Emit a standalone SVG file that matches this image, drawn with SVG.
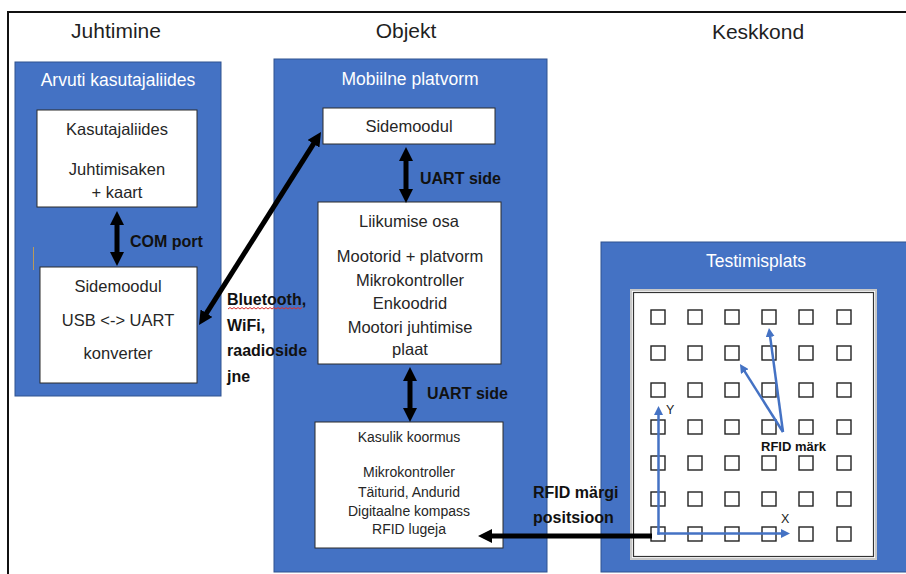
<svg xmlns="http://www.w3.org/2000/svg" width="906" height="574" viewBox="0 0 906 574">
  <defs>
    <style>
      .frame { fill: none; stroke: #111; stroke-width: 2; }
      .panel { fill: #4472C4; stroke: #2F528F; stroke-width: 1; }
      .box { fill: #fff; stroke: #2b2b2b; stroke-width: 1; }
      .title { font-family: "Liberation Sans", Arial, sans-serif; font-size: 21px; fill: #1f1f1f; text-anchor: middle; }
      .ptitle { font-family: "Liberation Sans", Arial, sans-serif; font-size: 17.5px; fill: #fff; text-anchor: middle; }
      .txt { font-family: "Liberation Sans", Arial, sans-serif; font-size: 16.5px; fill: #262626; text-anchor: middle; }
      .small { font-family: "Liberation Sans", Arial, sans-serif; font-size: 14px; fill: #262626; text-anchor: middle; }
      .lbl { font-family: "Liberation Sans", Arial, sans-serif; font-size: 16px; font-weight: bold; fill: #111; }
      .axis { font-family: "Liberation Sans", Arial, sans-serif; font-size: 12.5px; fill: #222; }
      .conn { stroke: #000; stroke-width: 5; fill: none; }
      .bconn { stroke: #4472C4; stroke-width: 2.5; fill: none; }
      .cell { fill: #fff; stroke: #222; stroke-width: 1.4; }
    </style>
    <marker id="head" viewBox="0 0 14 14" markerWidth="14" markerHeight="14" refX="3" refY="7" orient="auto-start-reverse" markerUnits="userSpaceOnUse">
      <path d="M0,0 L14,7 L0,14 z" fill="#000"/>
    </marker>
    <marker id="bhead" viewBox="0 0 9 9" markerWidth="9" markerHeight="9" refX="2" refY="4.5" orient="auto" markerUnits="userSpaceOnUse">
      <path d="M0,0 L9,4.5 L0,9 z" fill="#4472C4"/>
    </marker>
  </defs>

  <rect width="906" height="574" fill="#fff"/>
  <!-- outer frame, runs off the right and bottom edges -->
  <rect class="frame" x="8" y="12" width="920" height="600"/>

  <!-- column headings -->
  <text class="title" x="116" y="38">Juhtimine</text>
  <text class="title" x="406" y="38">Objekt</text>
  <text class="title" x="758" y="39">Keskkond</text>

  <!-- computer user interface -->
  <g id="arvuti">
    <rect class="panel" x="15" y="62" width="206" height="334"/>
    <text class="ptitle" x="118" y="86">Arvuti kasutajaliides</text>
    <line x1="33.5" y1="247" x2="33.5" y2="270" stroke="#b89a5a" stroke-width="1"/>
  </g>
  <g id="kasutajaliides">
    <rect class="box" x="37" y="110" width="160" height="97"/>
    <text class="txt" x="117" y="135">Kasutajaliides</text>
    <text class="txt" x="117" y="175">Juhtimisaken</text>
    <text class="txt" x="117" y="198">+ kaart</text>
  </g>
  <g id="sidemoodul-pc">
    <rect class="box" x="40" y="267" width="157" height="116"/>
    <text class="txt" x="118" y="292">Sidemoodul</text>
    <text class="txt" x="118" y="326">USB &lt;-&gt; UART</text>
    <text class="txt" x="118" y="359">konverter</text>
  </g>

  <!-- mobile platform -->
  <g id="platvorm">
    <rect class="panel" x="274" y="59" width="273" height="513"/>
    <text class="ptitle" x="410" y="85">Mobiilne platvorm</text>
  </g>
  <g id="sidemoodul">
    <rect class="box" x="323" y="108" width="172" height="36"/>
    <text class="txt" x="409" y="132">Sidemoodul</text>
  </g>
  <g id="liikumine">
    <rect class="box" x="318" y="202" width="183" height="162"/>
    <text class="txt" x="409" y="227">Liikumise osa</text>
    <text class="txt" x="410" y="262">Mootorid + platvorm</text>
    <text class="txt" x="410" y="286">Mikrokontroller</text>
    <text class="txt" x="410" y="309">Enkoodrid</text>
    <text class="txt" x="410" y="333">Mootori juhtimise</text>
    <text class="txt" x="410" y="355">plaat</text>
  </g>
  <g id="koormus">
    <rect class="box" x="315" y="422" width="188" height="126"/>
    <text class="small" x="409" y="442">Kasulik koormus</text>
    <text class="small" x="409" y="477">Mikrokontroller</text>
    <text class="small" x="409" y="497">Täiturid, Andurid</text>
    <text class="small" x="409" y="516">Digitaalne kompass</text>
    <text class="small" x="409" y="534">RFID lugeja</text>
  </g>

  <!-- test field -->
  <g id="testimisplats">
    <rect class="panel" x="601" y="242" width="310" height="330"/>
    <text class="ptitle" x="756" y="267">Testimisplats</text>
    <rect x="631" y="290" width="245" height="269" fill="#fff" stroke="#c8c8c8" stroke-width="2"/>
    <rect x="633.5" y="292.5" width="240" height="264" fill="none" stroke="#333" stroke-width="1.2"/>
    <g id="margid">
      <rect class="cell" x="651" y="310" width="14" height="14"/>
      <rect class="cell" x="688" y="310" width="14" height="14"/>
      <rect class="cell" x="725" y="310" width="14" height="14"/>
      <rect class="cell" x="762" y="310" width="14" height="14"/>
      <rect class="cell" x="799" y="310" width="14" height="14"/>
      <rect class="cell" x="837" y="310" width="14" height="14"/>

      <rect class="cell" x="651" y="346" width="14" height="14"/>
      <rect class="cell" x="688" y="346" width="14" height="14"/>
      <rect class="cell" x="725" y="346" width="14" height="14"/>
      <rect class="cell" x="762" y="346" width="14" height="14"/>
      <rect class="cell" x="799" y="346" width="14" height="14"/>
      <rect class="cell" x="837" y="346" width="14" height="14"/>

      <rect class="cell" x="651" y="383" width="14" height="14"/>
      <rect class="cell" x="688" y="383" width="14" height="14"/>
      <rect class="cell" x="725" y="383" width="14" height="14"/>
      <rect class="cell" x="762" y="383" width="14" height="14"/>
      <rect class="cell" x="799" y="383" width="14" height="14"/>
      <rect class="cell" x="837" y="383" width="14" height="14"/>

      <rect class="cell" x="651" y="420" width="14" height="14"/>
      <rect class="cell" x="688" y="420" width="14" height="14"/>
      <rect class="cell" x="725" y="420" width="14" height="14"/>
      <rect class="cell" x="762" y="420" width="14" height="14"/>
      <rect class="cell" x="799" y="420" width="14" height="14"/>
      <rect class="cell" x="837" y="420" width="14" height="14"/>

      <rect class="cell" x="651" y="456" width="14" height="14"/>
      <rect class="cell" x="688" y="456" width="14" height="14"/>
      <rect class="cell" x="725" y="456" width="14" height="14"/>
      <rect class="cell" x="762" y="456" width="14" height="14"/>
      <rect class="cell" x="799" y="456" width="14" height="14"/>
      <rect class="cell" x="837" y="456" width="14" height="14"/>

      <rect class="cell" x="651" y="492" width="14" height="14"/>
      <rect class="cell" x="688" y="492" width="14" height="14"/>
      <rect class="cell" x="725" y="492" width="14" height="14"/>
      <rect class="cell" x="762" y="492" width="14" height="14"/>
      <rect class="cell" x="799" y="492" width="14" height="14"/>
      <rect class="cell" x="837" y="492" width="14" height="14"/>

      <rect class="cell" x="651" y="527" width="14" height="14"/>
      <rect class="cell" x="688" y="527" width="14" height="14"/>
      <rect class="cell" x="725" y="527" width="14" height="14"/>
      <rect class="cell" x="762" y="527" width="14" height="14"/>
      <rect class="cell" x="799" y="527" width="14" height="14"/>
      <rect class="cell" x="837" y="527" width="14" height="14"/>
    </g>
  </g>

  <!-- connectors -->
  <g id="connectors">
    <line class="conn" x1="117" y1="222" x2="117" y2="255" marker-start="url(#head)" marker-end="url(#head)"/>
    <line class="conn" x1="406" y1="158" x2="406" y2="192" marker-start="url(#head)" marker-end="url(#head)"/>
    <line class="conn" x1="410" y1="378" x2="410" y2="411" marker-start="url(#head)" marker-end="url(#head)"/>
    <line class="conn" x1="204.9" y1="315.7" x2="315.1" y2="141.3" marker-start="url(#head)" marker-end="url(#head)"/>
    <line class="conn" x1="652" y1="536" x2="489" y2="536" marker-end="url(#head)"/>

    <!-- coordinate axes and tag readings -->
    <line class="bconn" x1="658.5" y1="534.7" x2="658.5" y2="413" marker-end="url(#bhead)"/>
    <line class="bconn" x1="657.3" y1="533.5" x2="783" y2="533.5" marker-end="url(#bhead)"/>
    <line class="bconn" x1="783" y1="432" x2="769.9" y2="334.9" marker-end="url(#bhead)"/>
    <line class="bconn" x1="783" y1="432" x2="743.7" y2="369.9" marker-end="url(#bhead)"/>
  </g>

  <!-- connector labels -->
  <text class="lbl" x="130" y="247">COM port</text>
  <text class="lbl" x="420" y="184">UART side</text>
  <text class="lbl" x="427" y="399">UART side</text>
  <text class="lbl" x="227" y="305">Bluetooth,</text>
  <path d="M228,309 l2,-1.5 l2,1.5 l2,-1.5 l2,1.5 l2,-1.5 l2,1.5 l2,-1.5 l2,1.5 l2,-1.5 l2,1.5 l2,-1.5 l2,1.5 l2,-1.5 l2,1.5 l2,-1.5 l2,1.5 l2,-1.5 l2,1.5 l2,-1.5 l2,1.5 l2,-1.5 l2,1.5 l2,-1.5 l2,1.5 l2,-1.5 l2,1.5 l2,-1.5 l2,1.5 l2,-1.5 l2,1.5 l2,-1.5 l2,1.5 l2,-1.5 l2,1.5 l2,-1.5 l2,1.5 l2,-1.5" fill="none" stroke="#d9302c" stroke-width="1"/>
  <text class="lbl" x="227" y="331">WiFi,</text>
  <text class="lbl" x="227" y="356">raadioside</text>
  <text class="lbl" x="227" y="382">jne</text>
  <text class="lbl" x="533" y="498">RFID märgi</text>
  <text class="lbl" x="533" y="523">positsioon</text>
  <text class="lbl" x="761" y="451" style="font-size:13px">RFID märk</text>
  <text class="axis" x="666" y="414">Y</text>
  <text class="axis" x="781" y="523">X</text>
</svg>
